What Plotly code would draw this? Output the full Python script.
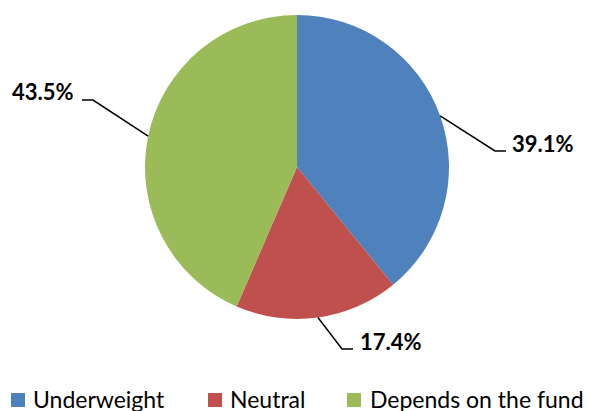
import math
import plotly.graph_objects as go

# ---- data ----
categories = ["Underweight", "Neutral", "Depends on the fund"]
values = [39.1, 17.4, 43.5]
colors = ["#4F81BD", "#C0504D", "#9BBB59"]

# ---- layout constants (window pixels) ----
OFF = 8                      # page body margin
W, H = 596 - OFF, 411 - OFF  # figure size
CX, CY, R = 297, 167, 152
# leader line elbow / end points and label anchors (pixel layout)
elbows = [(495, 151), (342, 349), (93, 100)]
ends = [(506, 151), (353, 349), (82, 100)]
label_pos = [(510, 143, "left"), (358, 341, "left"), (76, 92, "right")]
legend_sq_x = [11, 208, 347]
legend_txt_x = [31, 228, 368]
LEG_Y = 400
LEG_TXT_Y = 399
SQ = 14

def px(x):
    return (x - OFF) / W

def py(y):
    return (H - (y - OFF)) / H

fig = go.Figure()
fig.add_trace(go.Pie(
    labels=categories, values=values,
    marker=dict(colors=colors, line=dict(width=0)),
    sort=False, direction="clockwise", rotation=0,
    textinfo="none", hoverinfo="label+percent",
    showlegend=False,
    domain=dict(x=[px(CX - R), px(CX + R)], y=[py(CY + R), py(CY - R)]),
))

shapes = []
annotations = []
total = sum(values)
cum = 0.0
for i, v in enumerate(values):
    mid = (cum + v / 2) / total * 2 * math.pi
    cum += v
    ax = CX + R * math.sin(mid)
    ay = CY - R * math.cos(mid)
    ex, ey = elbows[i]
    fx, fy = ends[i]
    shapes.append(dict(type="path", xref="paper", yref="paper",
                       path=f"M{px(ax)},{py(ay)} L{px(ex)},{py(ey)} L{px(fx)},{py(fy)}",
                       line=dict(color="black", width=1.5)))
    lx, ly, anc = label_pos[i]
    pct = v / total * 100
    annotations.append(dict(x=px(lx), y=py(ly), xref="paper", yref="paper",
                            text=f"<b>{pct:.1f}%</b>", showarrow=False,
                            xanchor=anc, yanchor="middle",
                            font=dict(family="Lato", size=22, color="black")))

for i, c in enumerate(categories):
    sx = legend_sq_x[i]
    shapes.append(dict(type="rect", xref="paper", yref="paper",
                       x0=px(sx), x1=px(sx + SQ), y0=py(LEG_Y + SQ / 2), y1=py(LEG_Y - SQ / 2),
                       fillcolor=colors[i], line=dict(width=0)))
    annotations.append(dict(x=px(legend_txt_x[i]), y=py(LEG_TXT_Y), xref="paper", yref="paper",
                            text=c, showarrow=False, xanchor="left", yanchor="middle",
                            font=dict(family="Lato", size=23, color="black")))

fig.update_layout(
    width=W, height=H,
    margin=dict(l=0, r=0, t=0, b=0, autoexpand=False),
    paper_bgcolor="white", plot_bgcolor="white",
    shapes=shapes, annotations=annotations,
    showlegend=False,
)

fig.write_html("out.html")
